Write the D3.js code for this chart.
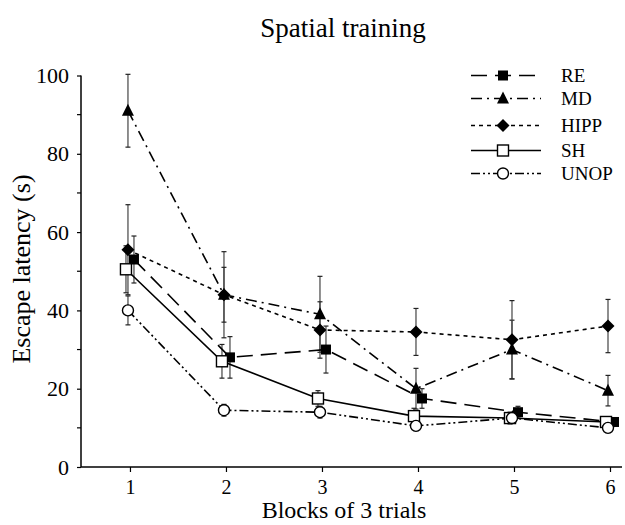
<!DOCTYPE html>
<html>
<head>
<meta charset="utf-8">
<script src="https://cdn.jsdelivr.net/npm/d3@7"></script>
<style>
  html, body { margin: 0; padding: 0; background: #fff; }
  svg { display: block; }
  text { font-family: "Liberation Serif", "Times New Roman", serif; fill: #000; }
</style>
</head>
<body>
<svg id="chart" width="625" height="525"></svg>
<script>
// ---- data ----
const blocks = [1, 2, 3, 4, 5, 6];
const xTicks = [1, 2, 3, 4, 5, 6];
const yTicks = [0, 20, 40, 60, 80, 100];
const yMinorTicks = [10, 30, 50, 70, 90];
const seriesNames = ["RE", "MD", "HIPP", "SH", "UNOP"];
const RE = [53, 28, 30, 17.5, 14, 11.5];
const RE_err = [6, 5.3, 6, 2.5, 1.5, 1];
const MD = [91, 44, 39, 20, 30, 19.5];
const MD_err = [9.3, 11, 9.7, 5.2, 7.5, 3.9];
const HIPP = [55.5, 44, 35, 34.5, 32.5, 36];
const HIPP_err = [11.5, 7, 7.2, 6, 10, 6.8];
const SH = [50.5, 27, 17.5, 13, 12.5, 11.5];
const SH_err = [6, 4.3, 2, 2, 1.5, 1];
const UNOP = [40, 14.5, 14, 10.5, 12.5, 10];
const UNOP_err = [3.7, 1.5, 1.5, 1.2, 1, 1.2];

const values = { RE, MD, HIPP, SH, UNOP };
const errors = { RE: RE_err, MD: MD_err, HIPP: HIPP_err, SH: SH_err, UNOP: UNOP_err };

// ---- styles ----
const styles = {
  RE:   { dash: "16,8", marker: "sqFilled", dx: 4 },
  MD:   { dash: "11,5,2,5", marker: "tri", dx: -2 },
  HIPP: { dash: "4,4", marker: "diamond", dx: -2 },
  SH:   { dash: null, marker: "sqOpen", dx: -4 },
  UNOP: { dash: "9,3,2,3,2,3", marker: "circle", dx: -2 }
};
const serif = "Liberation Serif";

const svg = d3.select("#chart");
const x = d3.scaleLinear().domain([0.49, 6.125]).range([81, 622]);
const y = d3.scaleLinear().domain([0, 100]).range([467, 75.5]);

// axes
const yAxis = d3.axisLeft(y).tickValues(yTicks).tickSize(4).tickPadding(8).tickFormat(d3.format("d"));
const gy = svg.append("g").attr("transform", "translate(81,0)").call(yAxis).attr("font-family", serif);
gy.select(".domain").attr("stroke", "#000").attr("stroke-width", 1.5).attr("d", `M0,${y(100)}V${y(0)}`);
gy.selectAll(".tick line").attr("stroke", "#000").attr("stroke-width", 1.2);
gy.selectAll(".tick text").style("font-size", "22px").style("font-family", serif);
svg.append("g").selectAll("line").data(yMinorTicks).join("line")
  .attr("x1", 77).attr("x2", 81).attr("y1", d => y(d)).attr("y2", d => y(d))
  .attr("stroke", "#000").attr("stroke-width", 1.2);

const xAxis = d3.axisBottom(x).tickValues(xTicks).tickSize(5).tickPadding(8).tickFormat(d3.format("d"));
const gx = svg.append("g").attr("transform", `translate(0,${y(0)})`).call(xAxis).attr("font-family", serif);
gx.select(".domain").attr("stroke", "#000").attr("stroke-width", 1.5).attr("d", "M81,0H622");
gx.selectAll(".tick line").attr("stroke", "#000").attr("stroke-width", 1.2);
gx.selectAll(".tick text").style("font-size", "20px").style("font-family", serif);

// titles
svg.append("text").attr("x", 343).attr("y", 37).attr("text-anchor", "middle")
  .style("font-size", "27px").text("Spatial training");
svg.append("text").attr("x", 344).attr("y", 518).attr("text-anchor", "middle")
  .style("font-size", "24px").text("Blocks of 3 trials");
svg.append("text").attr("transform", "translate(30,269) rotate(-90)").attr("text-anchor", "middle")
  .style("font-size", "26px").text("Escape latency (s)");

// marker drawing
function drawMarker(g, type, cx, cy) {
  if (type === "sqFilled") {
    g.append("rect").attr("x", cx - 5).attr("y", cy - 5).attr("width", 10).attr("height", 10).attr("fill", "#000");
  } else if (type === "sqOpen") {
    g.append("rect").attr("x", cx - 5.5).attr("y", cy - 5.5).attr("width", 11).attr("height", 11)
      .attr("fill", "#fff").attr("stroke", "#000").attr("stroke-width", 1.4);
  } else if (type === "tri") {
    g.append("path").attr("d", `M${cx},${cy - 7}L${cx + 6},${cy + 5}L${cx - 6},${cy + 5}Z`).attr("fill", "#000");
  } else if (type === "diamond") {
    g.append("path").attr("d", `M${cx},${cy - 6.5}L${cx + 6.5},${cy}L${cx},${cy + 6.5}L${cx - 6.5},${cy}Z`).attr("fill", "#000");
  } else if (type === "circle") {
    g.append("circle").attr("cx", cx).attr("cy", cy).attr("r", 5.5)
      .attr("fill", "#fff").attr("stroke", "#000").attr("stroke-width", 1.4);
  }
}

const line = d3.line();
const plot = svg.append("g");

// error bars first
seriesNames.forEach(name => {
  const st = styles[name];
  const g = plot.append("g");
  blocks.forEach((b, i) => {
    const cx = x(b) + st.dx;
    const v = values[name][i], e = errors[name][i];
    const y1 = y(v + e), y2 = y(v - e);
    g.append("line").attr("x1", cx).attr("x2", cx).attr("y1", y1).attr("y2", y2)
      .attr("stroke", "#444").attr("stroke-width", 1.2);
    [y1, y2].forEach(yy => g.append("line").attr("x1", cx - 2.5).attr("x2", cx + 2.5)
      .attr("y1", yy).attr("y2", yy).attr("stroke", "#222").attr("stroke-width", 1.2));
  });
});

// lines
seriesNames.forEach(name => {
  const st = styles[name];
  const pts = blocks.map((b, i) => [x(b) + st.dx, y(values[name][i])]);
  plot.append("path").attr("d", line(pts)).attr("fill", "none")
    .attr("stroke", "#000").attr("stroke-width", 1.6)
    .attr("stroke-dasharray", st.dash);
});

// markers
seriesNames.forEach(name => {
  const st = styles[name];
  const g = plot.append("g");
  blocks.forEach((b, i) => drawMarker(g, st.marker, x(b) + st.dx, y(values[name][i])));
});

// legend
const legendY = [75.5, 98.5, 125.5, 150.5, 173.5];
const lg = svg.append("g");
seriesNames.forEach((name, i) => {
  const st = styles[name];
  const ly = legendY[i];
  lg.append("line").attr("x1", 471).attr("x2", 541).attr("y1", ly).attr("y2", ly)
    .attr("stroke", "#000").attr("stroke-width", 1.6).attr("stroke-dasharray", st.dash);
  drawMarker(lg, st.marker, 503, ly);
  lg.append("text").attr("x", 561).attr("y", ly + 6).style("font-size", "19px").text(name);
});
</script>
</body>
</html>
